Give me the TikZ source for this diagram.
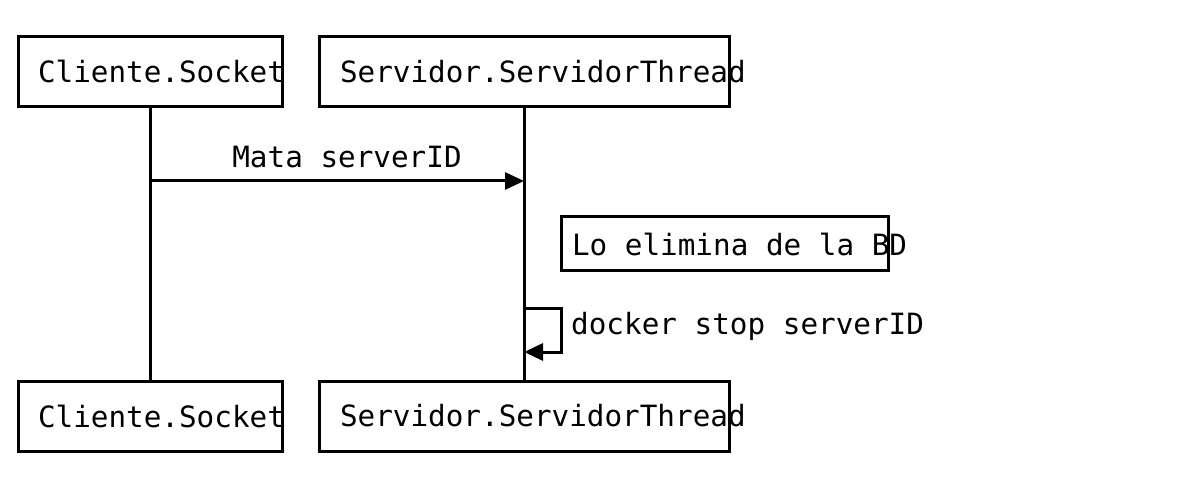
\documentclass[tikz,border=0pt]{standalone}
\usepackage{fontspec}
\setmonofont{DejaVu Sans Mono}
\usetikzlibrary{arrows.meta}

\tikzset{
	actor/.style={draw, line width=3pt, minimum height=70pt, inner ysep=0pt, font=\ttfamily\fontsize{29.3}{34}\selectfont},
	msg/.style={line width=3pt, -{Triangle[length=19pt,width=17pt]}},
	lbl/.style={font=\ttfamily\fontsize{29.3}{34}\selectfont, inner sep=0pt}
}

\begin{document}
\begin{tikzpicture}[x=1pt, y=-1pt]
		\useasboundingbox (0,0) rectangle (1184,489);
		% participants, top and bottom
		\foreach \n/\y in {1/72, 2/416} {
			\node[actor, inner xsep=20pt] (c\n) at (150,\y) {\makebox[224pt][l]{Cliente.Socket}};
			\node[actor, inner xsep=21pt] (s\n) at (524,\y) {\makebox[368pt][l]{Servidor.ServidorThread}};
		}
		\draw[line width=3pt] (c1)--(c2);
		\draw[line width=3pt] (s1)--(s2);
		% messages
		\coordinate (a1) at (150,181);
		\coordinate (a2) at (524,181);
		\draw[msg] (a1)--(a2) node[lbl, midway, above=12pt, xshift=10pt] (m1) {Mata serverID};
		\node[actor, minimum height=54pt, inner xsep=11pt] (bd) at (724.5,244) {\makebox[305pt][l]{Lo elimina de la BD}};
		\coordinate (l1) at (524,308);
		\coordinate (l2) at (524,352);
		\draw[msg] (l1) -- ++(37,0) |- (l2);
		\node[lbl, anchor=west] (m2) at (571,326) {docker stop serverID};
	\end{tikzpicture}
\end{document}
